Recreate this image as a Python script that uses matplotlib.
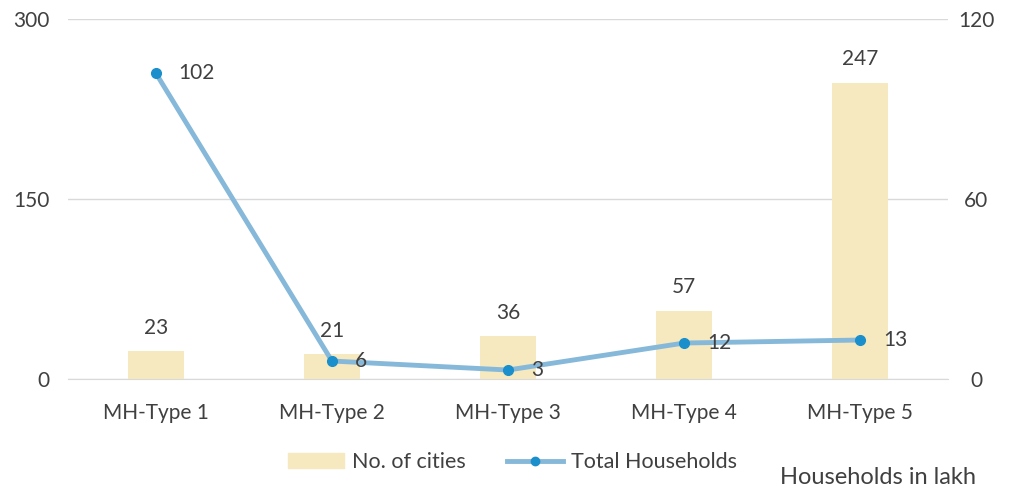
import matplotlib

matplotlib.use("Agg")
import matplotlib.pyplot as plt
from matplotlib.lines import Line2D
from matplotlib.patches import Patch

categories = ["MH-Type 1", "MH-Type 2", "MH-Type 3", "MH-Type 4", "MH-Type 5"]
cities = [23, 21, 36, 57, 247]
households = [102, 6, 3, 12, 13]
left_ticks = [0, 150, 300]
right_ticks = [0, 60, 120]

BAR = "#f6e9bf"
LINE = "#86b8d9"
DOT = "#1b8fcb"
TXT = "#404040"

plt.rcParams["font.family"] = ["Lato", "DejaVu Sans"]
plt.rcParams["font.size"] = 15

fig = plt.figure(figsize=(10.11, 4.9), dpi=100)
ax = fig.add_axes([0.067, 0.2265, 0.871, 0.7345])
ax2 = ax.twinx()

x = range(len(categories))
ax.bar(x, cities, width=0.32, color=BAR, zorder=2)
for xi, v in zip(x, cities):
    ax.text(xi, v + 11, str(v), ha="center", va="bottom", color=TXT, fontsize=15)

ax.set_ylim(0, 300)
ax.set_yticks(left_ticks)
ax.set_xlim(-0.5, len(categories) - 0.5)
ax.set_xticks(list(x))
ax.set_xticklabels(categories)
ax.grid(axis="y", color="#d9d9d9", linewidth=1, zorder=0)
ax.set_axisbelow(True)

ax2.plot(x, households, color=LINE, linewidth=3.5, marker="o", markersize=7,
         markerfacecolor=DOT, markeredgecolor=DOT, zorder=3)
for xi, v in zip(x, households):
    ax2.text(xi + 0.13, v, str(v), ha="left", va="center", color=TXT, fontsize=15)
ax2.set_ylim(0, 120)
ax2.set_yticks(right_ticks)

for a in (ax, ax2):
    for s in a.spines.values():
        s.set_visible(False)
    a.tick_params(length=0, colors=TXT, labelsize=15)
ax.tick_params(axis="x", pad=17)
ax.tick_params(axis="y", pad=13)
ax2.tick_params(axis="y", pad=20)
for lbl in ax2.get_yticklabels():
    lbl.set_horizontalalignment("center")
ax.spines["bottom"].set_visible(True)
ax.spines["bottom"].set_color("#d9d9d9")

handles = [Patch(color=BAR, label="No. of cities"),
           Line2D([0], [0], color=LINE, linewidth=3.5, marker="o", markersize=6,
                  markerfacecolor=DOT, markeredgecolor=DOT, label="Total Households")]
fig.legend(handles=handles, loc="center", bbox_to_anchor=(0.507, 0.057), ncol=2,
           frameon=False, fontsize=15.5, labelcolor=TXT, handlelength=2.6,
           columnspacing=1.9, handletextpad=0.4)
fig.text(0.965, 0.025, "Households in lakh", ha="right", va="center",
         color=TXT, fontsize=17)

fig.savefig("out.png", dpi=100)
